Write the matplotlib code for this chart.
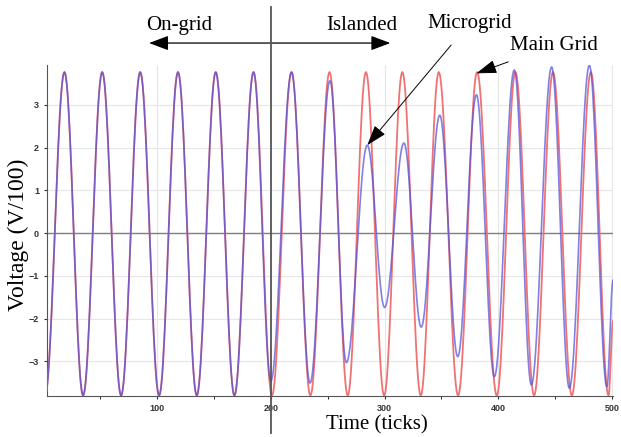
import numpy as np
import matplotlib
matplotlib.use("Agg")
import matplotlib.pyplot as plt

# extrema: (time in ticks, voltage in V/100)
main_t = [1.5, 18.6, 35.0, 51.8, 68.4, 85.2, 101.8, 118.4, 134.9, 151.6, 168.0, 184.8,
          201.0, 218.2, 234.8, 251.6, 267.6, 283.6, 299.6, 315.6, 331.8, 347.6, 364.6,
          381.3, 398.6, 415.0, 431.4, 448.0, 464.6, 481.3, 496.8, 500.8]
main_v = [-3.80, 3.77, -3.80, 3.77, -3.80, 3.77, -3.80, 3.77, -3.80, 3.77, -3.80, 3.77,
          -3.80, 3.77, -3.80, 3.77, -3.80, 3.77, -3.80, 3.77, -3.80, 3.77, -3.80,
          3.77, -3.80, 3.77, -3.80, 3.77, -3.80, 3.77, -3.80, -2.05]

micro_t = [1.5, 18.6, 35.0, 51.8, 68.4, 85.2, 101.8, 118.4, 134.9, 151.6, 168.0, 184.8,
           200.0, 218.2, 234.5, 252.0, 266.4, 284.8, 300.0, 317.0, 332.2, 348.5, 364.3,
           380.7, 396.5, 414.0, 429.0, 446.8, 462.4, 480.0, 495.4, 500.8]
micro_v = [-3.80, 3.77, -3.80, 3.77, -3.80, 3.77, -3.80, 3.77, -3.80, 3.77, -3.80, 3.77,
           -3.47, 3.77, -3.51, 3.57, -3.03, 2.06, -1.74, 2.11, -2.20, 2.76, -2.89,
           3.24, -3.36, 3.82, -3.55, 3.89, -3.63, 3.93, -3.59, -1.10]

x_ticks = [100, 200, 300, 400, 500]
y_ticks = [-3, -2, -1, 0, 1, 2, 3]
switch_time = 200


def wave(ts, vs, n=24):
    # smooth half-cosine between consecutive extrema
    xs, ys = [], []
    for i in range(len(ts) - 1):
        s = np.linspace(0, 1, n, endpoint=False)
        xs.append(ts[i] + (ts[i + 1] - ts[i]) * s)
        ys.append(vs[i] + (vs[i + 1] - vs[i]) * (1 - np.cos(np.pi * s)) / 2)
    xs.append([ts[-1]])
    ys.append([vs[-1]])
    return np.concatenate(xs), np.concatenate(ys)


fig = plt.figure(figsize=(6.21, 4.37), dpi=100)
ax = fig.add_axes([0.0752, 0.0938, 0.912, 0.757])

mx, my = wave(main_t, main_v)
bx, by = wave(micro_t, micro_v)
ax.plot(mx, my, color='#f07272', lw=1.3, zorder=3)
ax.plot(bx, by, color='#5050dc', lw=1.2, alpha=0.72, zorder=4)

ax.set_xlim(3, 500.8)
ax.set_ylim(-3.81, 3.93)
ax.set_xticks(x_ticks)
ax.set_xticks([50, 150, 250, 350, 450], minor=True)
ax.set_yticks(y_ticks)
ax.tick_params(labelsize=6.5, colors='#333333', length=2, width=0.8)
ax.tick_params(which='minor', length=2, width=0.6)
for lab in ax.get_xticklabels() + ax.get_yticklabels():
    lab.set_family('Liberation Sans')
    lab.set_fontweight('bold')
ax.grid(True, color='#e6e6e6', lw=0.8)
ax.axhline(0, color='#808080', lw=1.0, zorder=2)
for s in ['top', 'right']:
    ax.spines[s].set_visible(False)
for s in ['left', 'bottom']:
    ax.spines[s].set_color('#555555')

# switching instant
ax.axvline(switch_time, ymin=-0.112, ymax=1.175, color='#555555', lw=1.3,
           clip_on=False, zorder=5)

xt = ax.get_xaxis_transform()
ax.annotate('', xy=(93, 1.067), xytext=(305, 1.067), xycoords=xt, textcoords=xt,
            arrowprops=dict(arrowstyle='<|-|>,head_length=0.85,head_width=0.32',
                            mutation_scale=14, color='black', lw=0.9,
                            shrinkA=0, shrinkB=0), annotation_clip=False)

serif = 'Liberation Serif'
ax.text(119.3, 1.121, 'On-grid', transform=xt, ha='center', va='center',
        family=serif, fontsize=15)
ax.text(280.4, 1.121, 'Islanded', transform=xt, ha='center', va='center',
        family=serif, fontsize=15)

ax.annotate('Microgrid', xy=(284.8, 2.06), xytext=(374.6, 1.127),
            xycoords='data', textcoords=xt, ha='center', va='center',
            family=serif, fontsize=15, annotation_clip=False,
            arrowprops=dict(arrowstyle='-|>,head_length=0.9,head_width=0.3',
                            mutation_scale=14, color='black', lw=0.7,
                            shrinkA=9, shrinkB=0))
ax.annotate('Main Grid', xy=(380.7, 3.74), xytext=(449, 1.06),
            xycoords='data', textcoords=xt, ha='center', va='center',
            family=serif, fontsize=15, annotation_clip=False,
            arrowprops=dict(arrowstyle='-|>,head_length=0.9,head_width=0.3',
                            mutation_scale=14, color='black', lw=0.7,
                            shrinkA=9, shrinkB=0))

ax.text(293.6, -0.088, 'Time (ticks)', transform=xt, ha='center', va='center',
        family=serif, fontsize=15)
ax.text(-0.0507, 0.486, 'Voltage (V/100)', transform=ax.transAxes, rotation=90,
        ha='center', va='center', family=serif, fontsize=17)

fig.savefig('out.png', dpi=100)
